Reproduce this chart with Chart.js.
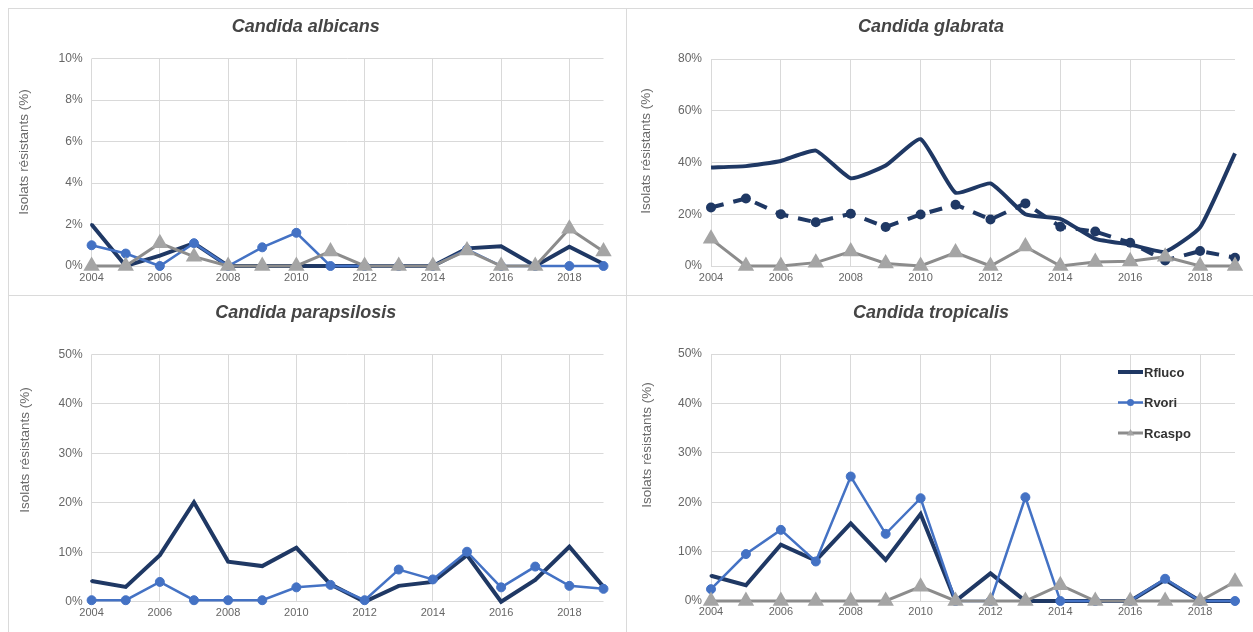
<!DOCTYPE html>
<html lang="fr">
<head>
<meta charset="utf-8">
<title>Isolats résistants – Candida spp. 2004-2019</title>
<script src="https://cdn.jsdelivr.net/npm/chart.js@4.4.1/dist/chart.umd.min.js"></script>
<style>
  html, body { margin: 0; padding: 0; background: #fff; }
  body { width: 1253px; height: 632px; position: relative; overflow: hidden; }
  .rule { position: absolute; background: #dadada; }
  canvas { position: absolute; }
</style>
</head>
<body>
<!-- panel frames -->
<div class="rule" style="left:8px;top:8px;width:1245px;height:1px;"></div>
<div class="rule" style="left:8px;top:295px;width:1245px;height:1px;"></div>
<div class="rule" style="left:8px;top:8px;width:1px;height:624px;"></div>
<div class="rule" style="left:626px;top:8px;width:1px;height:624px;"></div>

<canvas id="albicans" width="618" height="287" style="left:8px;top:8px;"></canvas>
<canvas id="glabrata" width="626" height="287" style="left:627px;top:8px;"></canvas>
<canvas id="parapsilosis" width="618" height="337" style="left:8px;top:295px;"></canvas>
<canvas id="tropicalis" width="626" height="337" style="left:627px;top:295px;"></canvas>

<script>
// ---- data (% of resistant isolates per year) ----
const years = [2004, 2005, 2006, 2007, 2008, 2009, 2010, 2011, 2012, 2013, 2014, 2015, 2016, 2017, 2018, 2019];
const yearTicks = [2004, 2006, 2008, 2010, 2012, 2014, 2016, 2018];

const albicansFluco = [2.0, 0, 0.5, 1.1, 0, 0, 0, 0, 0, 0, 0, 0.85, 0.95, 0, 0.93, 0.1];
const albicansVori  = [1.0, 0.6, 0, 1.1, 0, 0.9, 1.6, 0, 0, 0, 0, 0.8, 0, 0, 0, 0];
const albicansCaspo = [0, 0, 1.1, 0.45, 0, 0, 0, 0.7, 0, 0, 0, 0.75, 0, 0, 1.8, 0.7];
const albicansTicks = [0, 2, 4, 6, 8, 10];

const glabrataFluco = [38.1, 38.6, 40.6, 44.6, 33.9, 38.8, 49.0, 28.3, 31.9, 20.0, 18.2, 10.5, 8.3, 5.5, 14.9, 43.5];
const glabrataVori  = [22.6, 26.1, 20.0, 16.9, 20.2, 15.1, 19.9, 23.7, 18.0, 24.2, 15.2, 13.3, 9.0, 2.1, 5.8, 3.2];
const glabrataCaspo = [10.5, 0, 0, 1.3, 5.6, 1.0, 0, 5.2, 0, 7.5, 0, 1.5, 1.8, 3.6, 0, 0];
const glabrataTicks = [0, 20, 40, 60, 80];

const parapsilosisFluco = [4.2, 3.0, 9.4, 20.1, 8.1, 7.2, 10.9, 3.5, 0, 3.2, 4.0, 9.4, 0, 4.4, 11.1, 3.0];
const parapsilosisVori  = [0.3, 0.3, 4.0, 0.3, 0.3, 0.3, 2.9, 3.4, 0.3, 6.5, 4.5, 10.1, 2.9, 7.1, 3.2, 2.6];
const parapsilosisTicks = [0, 10, 20, 30, 40, 50];

const tropicalisFluco = [5.1, 3.2, 11.4, 8.2, 15.7, 8.3, 17.6, 0, 5.6, 0, 0, 0, 0, 4.3, 0, 0];
const tropicalisVori  = [2.4, 9.5, 14.4, 8.0, 25.2, 13.6, 20.8, 0, 0, 21.0, 0, 0, 0, 4.5, 0, 0];
const tropicalisCaspo = [0, 0, 0, 0, 0, 0, 2.9, 0, 0, 0, 3.2, 0, 0, 0, 0, 3.9];
const tropicalisTicks = [0, 10, 20, 30, 40, 50];

const seriesNames = { fluco: 'Rfluco', vori: 'Rvori', caspo: 'Rcaspo' };
const axisTitle = 'Isolats résistants (%)';

// ---- styling ----
const FONT = '"Liberation Sans", Arial, Helvetica, sans-serif';
Chart.defaults.font.family = FONT;
Chart.defaults.color = '#666';

const NAVY = '#1f3864';
const BLUE = '#4472c4';
const GREY_LINE = '#8c8c8c';
const GREY_MARK = '#a5a5a5';

function points(values) {
  return years.map((yr, i) => ({ x: yr, y: values[i] }));
}

function flucoSet(values, extra) {
  return Object.assign({
    label: seriesNames.fluco, data: points(values),
    borderColor: NAVY, backgroundColor: NAVY, pointBorderColor: NAVY,
    borderWidth: 4, pointRadius: 1.5, pointBorderWidth: 0, pointStyle: 'circle', order: 3, clip: false
  }, extra || {});
}
function voriSet(values, extra) {
  return Object.assign({
    label: seriesNames.vori, data: points(values),
    borderColor: BLUE, backgroundColor: BLUE, pointBorderColor: BLUE,
    borderWidth: 2.5, pointRadius: 4.5, pointBorderWidth: 1, pointStyle: 'circle', order: 2, clip: false
  }, extra || {});
}
function caspoSet(values) {
  return {
    label: seriesNames.caspo, data: points(values),
    borderColor: GREY_LINE, backgroundColor: GREY_MARK, pointBorderColor: GREY_MARK,
    borderWidth: 3, pointRadius: 6.5, pointStyle: 'triangle', order: 1, clip: false
  };
}

// rotated y-axis caption, centred at a fixed spot of the panel
const yTitlePlugin = {
  id: 'yTitle',
  afterDraw(chart, args, opts) {
    const ctx = chart.ctx;
    ctx.save();
    ctx.translate(opts.x, opts.y);
    ctx.rotate(-Math.PI / 2);
    ctx.font = '13.5px ' + FONT;
    ctx.fillStyle = '#6b6b6b';
    ctx.textAlign = 'center';
    ctx.textBaseline = 'middle';
    ctx.fillText(opts.text, 0, 0);
    ctx.restore();
  }
};

// vertical legend drawn inside the plot area
const cornerLegendPlugin = {
  id: 'cornerLegend',
  afterDraw(chart, args, opts) {
    if (!opts.display) return;
    const ctx = chart.ctx;
    chart.data.datasets.forEach((ds, i) => {
      const y = opts.y + i * opts.gap;
      const x0 = opts.x, x1 = opts.x + opts.lineLength, xm = (x0 + x1) / 2;
      ctx.save();
      ctx.strokeStyle = ds.borderColor;
      ctx.lineWidth = ds.borderWidth;
      ctx.beginPath(); ctx.moveTo(x0, y); ctx.lineTo(x1, y); ctx.stroke();
      ctx.fillStyle = ds.backgroundColor;
      const r = opts.markerRadius[i];
      ctx.beginPath();
      if (ds.pointStyle === 'triangle') {
        ctx.moveTo(xm, y - r);
        ctx.lineTo(xm + r * 0.95, y + r * 0.6);
        ctx.lineTo(xm - r * 0.95, y + r * 0.6);
        ctx.closePath();
      } else {
        ctx.arc(xm, y, r, 0, Math.PI * 2);
      }
      ctx.fill();
      ctx.font = 'bold 13px ' + FONT;
      ctx.fillStyle = '#333';
      ctx.textAlign = 'left';
      ctx.textBaseline = 'middle';
      ctx.fillText(ds.label, x1 + 1, y + 1);
      ctx.restore();
    });
  }
};

function panel(id, o) {
  return new Chart(document.getElementById(id), {
    type: 'line',
    data: { datasets: o.datasets },
    options: {
      responsive: false,
      animation: false,
      devicePixelRatio: 1,
      layout: { padding: { left: 0, right: o.padRight, top: 0, bottom: 0 } },
      plugins: {
        legend: { display: false },
        tooltip: { enabled: false },
        title: {
          display: true, text: o.title, color: '#454545',
          font: { size: 18, weight: 'bold', style: 'italic' },
          padding: { top: o.titleTop, bottom: o.titleBottom }
        },
        yTitle: { text: axisTitle, x: o.yTitleX, y: o.yTitleY },
        cornerLegend: o.legend || { display: false }
      },
      scales: {
        x: {
          type: 'linear', min: years[0], max: years[years.length - 1],
          afterBuildTicks: s => { s.ticks = yearTicks.map(v => ({ value: v })); },
          afterFit: s => { s.height = o.xHeight; },
          grid: { color: '#d9d9d9', drawTicks: false },
          border: { display: false },
          ticks: { padding: o.xPad, font: { size: 11 }, color: '#666', maxRotation: 0, autoSkip: false,
                   callback: v => String(v) }
        },
        y: {
          min: 0, max: o.yTicks[o.yTicks.length - 1],
          afterBuildTicks: s => { s.ticks = o.yTicks.map(v => ({ value: v })); },
          afterFit: s => { s.width = o.yWidth; },
          grid: { color: '#d9d9d9', drawTicks: false },
          border: { display: false },
          ticks: { padding: 9, font: { size: 12 }, color: '#666', callback: v => v + '%' }
        }
      }
    },
    plugins: [yTitlePlugin, cornerLegendPlugin]
  });
}

panel('albicans', {
  title: 'Candida albicans',
  datasets: [flucoSet(albicansFluco), voriSet(albicansVori), caspoSet(albicansCaspo)],
  yTicks: albicansTicks,
  yWidth: 83.6, padRight: 22.5, xHeight: 29, xPad: 5.5,
  titleTop: 8.2, titleBottom: 20.7,
  yTitleX: 16.5, yTitleY: 144
});

panel('glabrata', {
  title: 'Candida glabrata',
  datasets: [
    flucoSet(glabrataFluco, { tension: 0.15, pointRadius: 0 }),
    voriSet(glabrataVori, { borderColor: NAVY, backgroundColor: NAVY, pointBorderColor: NAVY,
                            borderWidth: 4, borderDash: [13, 10], pointRadius: 5, pointBorderWidth: 0 }),
    caspoSet(glabrataCaspo)
  ],
  yTicks: glabrataTicks,
  yWidth: 84, padRight: 18, xHeight: 29, xPad: 5.5,
  titleTop: 8.5, titleBottom: 20.9,
  yTitleX: 19, yTitleY: 143
});

panel('parapsilosis', {
  title: 'Candida parapsilosis',
  datasets: [flucoSet(parapsilosisFluco), voriSet(parapsilosisVori)],
  yTicks: parapsilosisTicks,
  yWidth: 83.6, padRight: 22.5, xHeight: 30.3, xPad: 4.5,
  titleTop: 6.9, titleBottom: 30.8,
  yTitleX: 17, yTitleY: 155
});

panel('tropicalis', {
  title: 'Candida tropicalis',
  datasets: [flucoSet(tropicalisFluco), voriSet(tropicalisVori), caspoSet(tropicalisCaspo)],
  yTicks: tropicalisTicks,
  yWidth: 84, padRight: 18, xHeight: 31, xPad: 4.5,
  titleTop: 6.9, titleBottom: 30.5,
  yTitleX: 20, yTitleY: 150,
  legend: { display: true, x: 491, y: 77, gap: 30.5, lineLength: 25, markerRadius: [1.5, 3.5, 4] }
});
</script>
</body>
</html>
